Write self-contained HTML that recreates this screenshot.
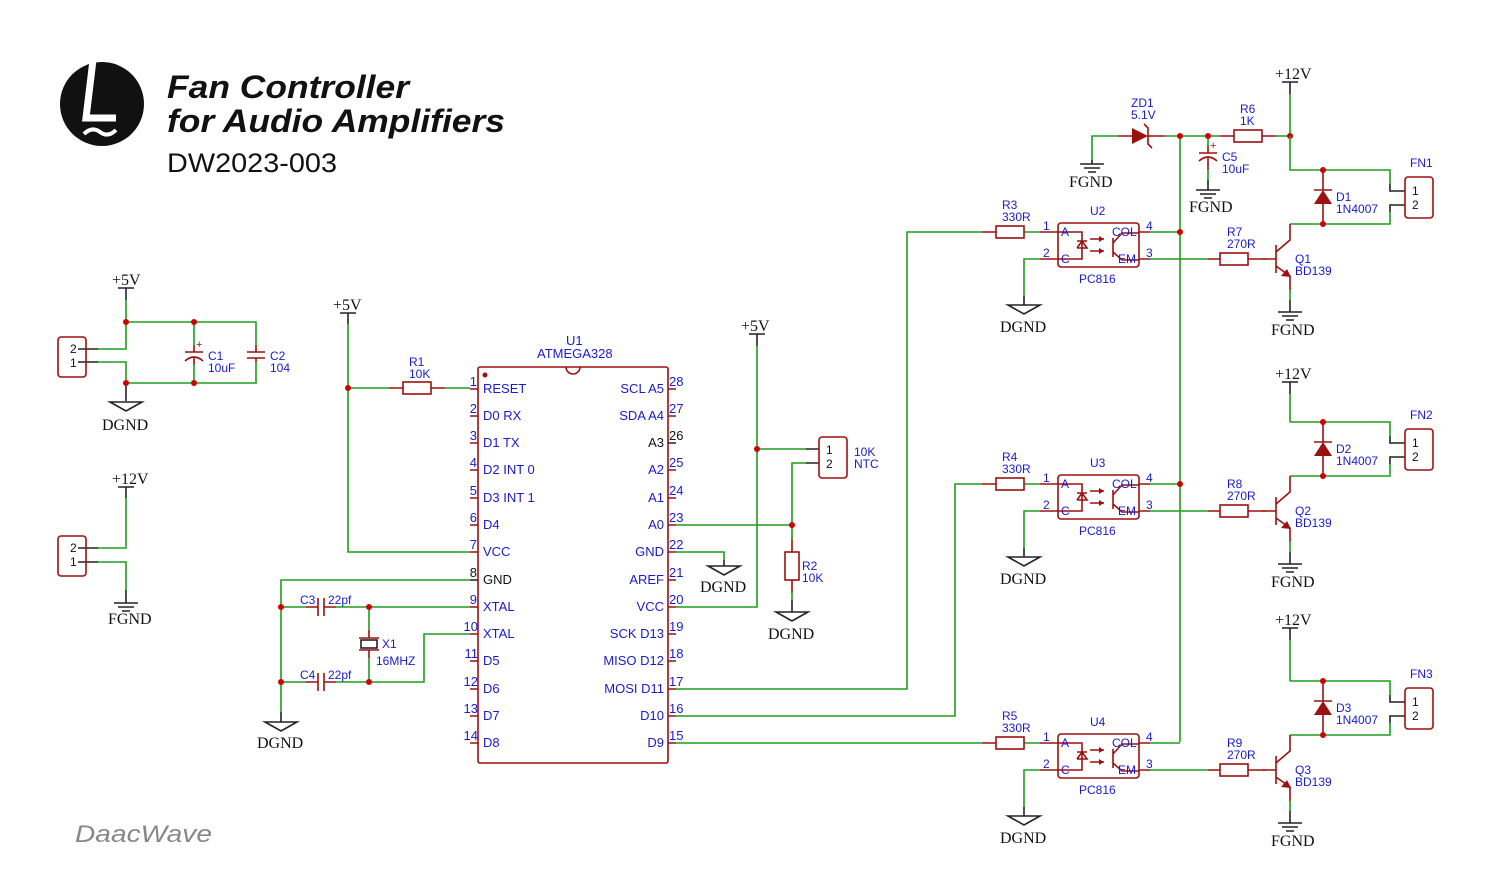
<!DOCTYPE html>
<html><head><meta charset="utf-8"><style>
html,body{margin:0;padding:0;background:#fff}
svg{display:block}
.w{stroke:#1e9e1e;stroke-width:1.6;fill:none}
.c{stroke:#9b1111;stroke-width:1.6;fill:none}
.k{stroke:#222;stroke-width:1.6;fill:none}
.d{fill:#d00000}
.t{font-family:"Liberation Sans",sans-serif;font-size:12px;fill:#1a1ad0}
.u text{font-size:13px}
.n{font-family:"Liberation Serif",serif;font-size:16px;fill:#111}
.p{font-family:"Liberation Sans",sans-serif;font-size:12px;fill:#111}
</style></head><body>
<svg width="1494" height="893" viewBox="0 0 1494 893" xmlns="http://www.w3.org/2000/svg">
<!-- logo -->
<circle cx="102" cy="104" r="42" fill="#111"/>
<path d="M93 60 L86 118 L116 118" stroke="#fff" stroke-width="7" fill="none"/>
<path d="M84 134 Q92 126 100 132 Q108 138 116 130" stroke="#fff" stroke-width="4" fill="none"/>
<text x="167" y="98" font-family="Liberation Sans,sans-serif" font-weight="bold" font-style="italic" font-size="32" fill="#111" textLength="242" lengthAdjust="spacingAndGlyphs">Fan Controller</text>
<text x="167" y="132" font-family="Liberation Sans,sans-serif" font-weight="bold" font-style="italic" font-size="32" fill="#111" textLength="338" lengthAdjust="spacingAndGlyphs">for Audio Amplifiers</text>
<text x="167" y="172" font-family="Liberation Sans,sans-serif" font-size="27" fill="#111" textLength="170" lengthAdjust="spacingAndGlyphs">DW2023-003</text>
<text x="75" y="842" font-family="Liberation Sans,sans-serif" font-style="italic" font-size="24" fill="#888" textLength="137" lengthAdjust="spacingAndGlyphs">DaacWave</text>

<!-- left power +5V -->
<text class="n" x="112" y="285">+5V</text>
<path class="k" d="M118 288 H134 M126 288 V300 M78 349 H98 M78 362 H98"/>
<path class="w" d="M126 300 V349 H98 M98 362 H126 V383 M126 322 H256 V345 M256 362 V383 H126 M194 322 V345 M194 365 V383"/>
<path class="k" d="M126 383 V401"/>
<path class="k" d="M110 402 H142 L126 411 Z"/>
<text class="n" x="102" y="430">DGND</text>
<rect class="c" x="58" y="337" width="28" height="40" rx="3"/>
<text class="p" x="70" y="353">2</text><text class="p" x="70" y="367">1</text>
<path class="c" d="M185 352 H203 M185 361 Q194 353 203 361 M194 345 V352 M194 358 V365 M247 352 H265 M247 358 H265 M256 345 V352 M256 358 V362"/>
<text x="196" y="348" font-size="11" fill="#9b1111" font-family="Liberation Sans">+</text>
<text class="t" x="208" y="360">C1</text><text class="t" x="208" y="372">10uF</text>
<text class="t" x="270" y="360">C2</text><text class="t" x="270" y="372">104</text>
<circle class="d" cx="126" cy="322" r="3"/><circle class="d" cx="194" cy="322" r="3"/>
<circle class="d" cx="126" cy="383" r="3"/><circle class="d" cx="194" cy="383" r="3"/>

<!-- left +12V -->
<text class="n" x="112" y="484">+12V</text>
<path class="k" d="M118 487 H134 M126 487 V498 M78 548 H98 M78 562 H98"/>
<path class="w" d="M126 498 V548 H98 M98 562 H126 V590"/>
<path class="k" d="M126 590 V603 M114 603 H138 M118 607 H134 M122 611 H130"/>
<text class="n" x="108" y="624">FGND</text>
<rect class="c" x="58" y="536" width="28" height="40" rx="3"/>
<text class="p" x="70" y="552">2</text><text class="p" x="70" y="566">1</text>

<!-- U1 -->
<g class="u">
<text class="t" x="566" y="345">U1</text><text class="t" x="537" y="358">ATMEGA328</text>
</g>
<rect class="c" x="478" y="367" width="190" height="396" rx="2"/>
<path class="c" d="M566 367 A7 7 0 0 0 580 367" />
<circle cx="485" cy="375" r="2.5" fill="#9b1111"/>
<g class="c">
<path d="M470 389H478M470 416H478M470 443H478M470 470H478M470 498H478M470 525H478M470 552H478M470 607H478M470 634H478M470 661H478M470 689H478M470 716H478M470 743H478"/>
<path d="M668 389H676M668 416H676M668 470H676M668 498H676M668 525H676M668 552H676M668 580H676M668 607H676M668 634H676M668 661H676M668 689H676M668 716H676M668 743H676"/>
</g>
<path class="k" d="M470 580H478M668 443H676"/>
<g class="t u" text-anchor="end">
<text x="477" y="386">1</text><text x="477" y="413">2</text><text x="477" y="440">3</text><text x="477" y="467">4</text><text x="477" y="495">5</text><text x="477" y="522">6</text><text x="477" y="549">7</text><text x="477" y="577" style="fill:#111">8</text><text x="477" y="604">9</text><text x="478" y="631">10</text><text x="478" y="658">11</text><text x="478" y="686">12</text><text x="478" y="713">13</text><text x="478" y="740">14</text>
</g>
<g class="t u">
<text x="669" y="386">28</text><text x="669" y="413">27</text><text x="669" y="440" style="fill:#111">26</text><text x="669" y="467">25</text><text x="669" y="495">24</text><text x="669" y="522">23</text><text x="669" y="549">22</text><text x="669" y="577">21</text><text x="669" y="604">20</text><text x="669" y="631">19</text><text x="669" y="658">18</text><text x="669" y="686">17</text><text x="669" y="713">16</text><text x="669" y="740">15</text>
<text x="483" y="393">RESET</text><text x="483" y="420">D0 RX</text><text x="483" y="447">D1 TX</text><text x="483" y="474">D2 INT 0</text><text x="483" y="502">D3 INT 1</text><text x="483" y="529">D4</text><text x="483" y="556">VCC</text><text x="483" y="584" style="fill:#111">GND</text><text x="483" y="611">XTAL</text><text x="483" y="638">XTAL</text><text x="483" y="665">D5</text><text x="483" y="693">D6</text><text x="483" y="720">D7</text><text x="483" y="747">D8</text>
</g>
<g class="t u" text-anchor="end">
<text x="664" y="393">SCL A5</text><text x="664" y="420">SDA A4</text><text x="664" y="447" style="fill:#111">A3</text><text x="664" y="474">A2</text><text x="664" y="502">A1</text><text x="664" y="529">A0</text><text x="664" y="556">GND</text><text x="664" y="584">AREF</text><text x="664" y="611">VCC</text><text x="664" y="638">SCK D13</text><text x="664" y="665">MISO D12</text><text x="664" y="693">MOSI D11</text><text x="664" y="720">D10</text><text x="664" y="747">D9</text>
</g>

<!-- +5V / R1 -->
<text class="n" x="333" y="310">+5V</text>
<path class="k" d="M340 313 H356 M348 313 V324"/>
<path class="w" d="M348 324 V552 H470 M348 388 H389 M445 388 H470"/>
<path class="c" d="M389 388 H403 M431 388 H445"/><rect class="c" x="403" y="382" width="28" height="12"/>
<text class="t" x="409" y="366">R1</text><text class="t" x="409" y="378">10K</text>
<circle class="d" cx="348" cy="388" r="3"/>

<!-- crystal area -->
<path class="w" d="M470 580 H281 V712 M281 607 H306 M336 607 H470 M281 682 H306 M336 682 H369 H424 V634 H470 M369 607 V630 M369 658 V682"/>
<path class="c" d="M306 607 H318 M324 607 H336 M318 598 V616 M324 598 V616 M306 682 H318 M324 682 H336 M318 673 V691 M324 673 V691 M369 630 V638 M369 650 V658 M359 638 H379 M359 650 H379"/>
<rect class="k" x="361" y="640" width="16" height="8"/>
<text class="t" x="300" y="604">C3</text><text class="t" x="328" y="604">22pf</text>
<text class="t" x="300" y="679">C4</text><text class="t" x="328" y="679">22pf</text>
<text class="t" x="382" y="648">X1</text><text class="t" x="376" y="665">16MHZ</text>
<path class="k" d="M281 712 V722 M265 722 H297 L281 731 Z"/>
<text class="n" x="257" y="748">DGND</text>
<circle class="d" cx="281" cy="607" r="3"/><circle class="d" cx="281" cy="682" r="3"/><circle class="d" cx="369" cy="607" r="3"/><circle class="d" cx="369" cy="682" r="3"/>

<!-- NTC area -->
<text class="n" x="741" y="331">+5V</text>
<path class="k" d="M749 334 H765 M757 334 V346"/>
<path class="w" d="M757 346 V607 H676 M757 449 H806 M806 463 H792 V539 M676 525 H792 M676 552 H724 V560 M792 593 V600"/>
<path class="k" d="M806 449 H819 M806 463 H819"/>
<rect class="c" x="819" y="437" width="28" height="41" rx="3"/>
<text class="p" x="826" y="454">1</text><text class="p" x="826" y="468">2</text>
<text class="t" x="854" y="456">10K</text><text class="t" x="854" y="468">NTC</text>
<path class="c" d="M792 539 V552 M792 580 V593"/><rect class="c" x="785" y="552" width="14" height="28"/>
<text class="t" x="802" y="570">R2</text><text class="t" x="802" y="582">10K</text>
<path class="k" d="M724 560 V566 M708 566 H740 L724 575 Z M792 600 V612 M776 612 H808 L792 621 Z"/>
<text class="n" x="700" y="592">DGND</text><text class="n" x="768" y="639">DGND</text>
<circle class="d" cx="757" cy="449" r="3"/><circle class="d" cx="792" cy="525" r="3"/>

<!-- MCU to optos -->
<path class="w" d="M676 689 H907 V232 H982 M676 716 H955 V484 H982 M676 743 H982"/>

<!-- top zener / R6 -->
<text class="n" x="1275" y="79">+12V</text>
<path class="k" d="M1282 82 H1298 M1290 82 V94"/>
<path class="w" d="M1290 94 V136 M1092 160 V136 H1118 M1165 136 H1220 M1276 136 H1290 M1208 136 V146 M1180 136 V742 M1208 170 V180"/>
<path class="c" d="M1118 136 H1132 M1148 136 H1165 M1220 136 H1234 M1262 136 H1276 M1199 153 H1217 M1199 161 Q1208 153 1217 161 M1208 146 V153 M1208 158 V170"/>
<path d="M1132 128 L1148 136 L1132 144 Z" fill="#9b1111"/>
<path class="c" d="M1144 124 L1148 128 V144 L1152 148"/>
<rect class="c" x="1234" y="130" width="28" height="12"/>
<text x="1210" y="149" font-size="11" fill="#9b1111" font-family="Liberation Sans">+</text>
<text class="t" x="1131" y="107">ZD1</text><text class="t" x="1131" y="119">5.1V</text>
<text class="t" x="1240" y="113">R6</text><text class="t" x="1240" y="125">1K</text>
<text class="t" x="1222" y="161">C5</text><text class="t" x="1222" y="173">10uF</text>
<path class="k" d="M1092 160 V164 M1080 164 H1104 M1084 168 H1100 M1088 172 H1096 M1208 180 V190 M1196 190 H1220 M1200 194 H1216 M1204 198 H1212"/>
<text class="n" x="1069" y="187">FGND</text><text class="n" x="1189" y="212">FGND</text>
<circle class="d" cx="1180" cy="136" r="3"/><circle class="d" cx="1208" cy="136" r="3"/><circle class="d" cx="1290" cy="136" r="3"/>

<!-- +12V for blocks 2,3 -->
<text class="n" x="1275" y="379">+12V</text>
<path class="k" d="M1282 382 H1298 M1290 382 V394"/>
<path class="w" d="M1290 394 V422"/>
<text class="n" x="1275" y="625">+12V</text>
<path class="k" d="M1282 628 H1298 M1290 628 V640"/>
<path class="w" d="M1290 640 V681"/>

<!-- block 1 -->
<g>
<path class="w" d="M1290 136 V170 H1390 V184 M1390 212 V224 H1290 M1024 232 H1040 M1040 259 H1024 V296 M1150 232 H1180 M1150 259 H1208 M1262 259 H1266 M1290 290 V300"/>
<path class="k" d="M1390 184 V191 H1405 M1390 212 V205 H1405 M1290 300 V312 M1278 312 H1302 M1282 316 H1298 M1286 320 H1294 M1024 296 V305 M1008 305 H1040 L1024 314 Z"/>
<path class="c" d="M982 232 H996 M1040 232 H1058 M1040 259 H1058 M1139 232 H1150 M1139 259 H1150 M1208 259 H1220 M1248 259 H1266 H1276 M1323 170 V190 M1323 204 V224 M1276 245 V273 M1276 252 L1290 240 V224 M1276 266 L1290 276 V290"/>
<rect class="c" x="996" y="226" width="28" height="12"/>
<rect class="c" x="1220" y="253" width="28" height="12"/>
<path d="M1314 204 L1332 204 L1323 190 Z" fill="#9b1111"/><path class="c" d="M1314 190 H1332"/>
<path d="M1291 277 L1281 276 L1287 269 Z" fill="#9b1111"/>
<rect class="c" x="1058" y="223" width="81" height="44" rx="3"/>
<path class="c" d="M1058 232 H1082 V259 H1058 M1077 241 H1087 M1077 248 H1087 L1082 241 L1077 248 M1090 239 H1104 M1090 251 H1104 M1113 238 V257 M1113 243 L1122 233 H1139 M1113 252 L1122 260 H1139"/>
<path d="M1104 239 L1099 236 V242 Z M1104 251 L1099 248 V254 Z" fill="#9b1111"/>
<rect class="c" x="1405" y="177" width="28" height="41" rx="3"/>
<text class="p" x="1412" y="195">1</text><text class="p" x="1412" y="209">2</text>
<text class="t" x="1410" y="167">FN1</text>
<text class="t" x="1336" y="201">D1</text><text class="t" x="1336" y="213">1N4007</text>
<text class="t" x="1295" y="263">Q1</text><text class="t" x="1295" y="275">BD139</text>
<text class="t" x="1227" y="236">R7</text><text class="t" x="1227" y="248">270R</text>
<text class="t" x="1002" y="209">R3</text><text class="t" x="1002" y="221">330R</text>
<text class="t" x="1090" y="215">U2</text><text class="t" x="1079" y="283">PC816</text>
<text class="t" x="1043" y="230">1</text><text class="t" x="1043" y="257">2</text><text class="t" x="1146" y="230">4</text><text class="t" x="1146" y="257">3</text>
<text class="t" x="1061" y="236">A</text><text class="t" x="1061" y="263">C</text><text class="t" x="1112" y="236">COL</text><text class="t" x="1118" y="263">EM</text>
<text class="n" x="1271" y="335">FGND</text><text class="n" x="1000" y="332">DGND</text>
<circle class="d" cx="1323" cy="170" r="3"/><circle class="d" cx="1323" cy="224" r="3"/><circle class="d" cx="1180" cy="232" r="3"/>
</g>

<!-- block 2 -->
<g transform="translate(0,252)">
<path class="w" d="M1290 170 H1390 V184 M1390 212 V224 H1290 M1024 232 H1040 M1040 259 H1024 V296 M1150 232 H1180 M1150 259 H1208 M1262 259 H1266 M1290 290 V300"/>
<path class="k" d="M1390 184 V191 H1405 M1390 212 V205 H1405 M1290 300 V312 M1278 312 H1302 M1282 316 H1298 M1286 320 H1294 M1024 296 V305 M1008 305 H1040 L1024 314 Z"/>
<path class="c" d="M982 232 H996 M1040 232 H1058 M1040 259 H1058 M1139 232 H1150 M1139 259 H1150 M1208 259 H1220 M1248 259 H1266 H1276 M1323 170 V190 M1323 204 V224 M1276 245 V273 M1276 252 L1290 240 V224 M1276 266 L1290 276 V290"/>
<rect class="c" x="996" y="226" width="28" height="12"/>
<rect class="c" x="1220" y="253" width="28" height="12"/>
<path d="M1314 204 L1332 204 L1323 190 Z" fill="#9b1111"/><path class="c" d="M1314 190 H1332"/>
<path d="M1291 277 L1281 276 L1287 269 Z" fill="#9b1111"/>
<rect class="c" x="1058" y="223" width="81" height="44" rx="3"/>
<path class="c" d="M1058 232 H1082 V259 H1058 M1077 241 H1087 M1077 248 H1087 L1082 241 L1077 248 M1090 239 H1104 M1090 251 H1104 M1113 238 V257 M1113 243 L1122 233 H1139 M1113 252 L1122 260 H1139"/>
<path d="M1104 239 L1099 236 V242 Z M1104 251 L1099 248 V254 Z" fill="#9b1111"/>
<rect class="c" x="1405" y="177" width="28" height="41" rx="3"/>
<text class="p" x="1412" y="195">1</text><text class="p" x="1412" y="209">2</text>
<text class="t" x="1410" y="167">FN2</text>
<text class="t" x="1336" y="201">D2</text><text class="t" x="1336" y="213">1N4007</text>
<text class="t" x="1295" y="263">Q2</text><text class="t" x="1295" y="275">BD139</text>
<text class="t" x="1227" y="236">R8</text><text class="t" x="1227" y="248">270R</text>
<text class="t" x="1002" y="209">R4</text><text class="t" x="1002" y="221">330R</text>
<text class="t" x="1090" y="215">U3</text><text class="t" x="1079" y="283">PC816</text>
<text class="t" x="1043" y="230">1</text><text class="t" x="1043" y="257">2</text><text class="t" x="1146" y="230">4</text><text class="t" x="1146" y="257">3</text>
<text class="t" x="1061" y="236">A</text><text class="t" x="1061" y="263">C</text><text class="t" x="1112" y="236">COL</text><text class="t" x="1118" y="263">EM</text>
<text class="n" x="1271" y="335">FGND</text><text class="n" x="1000" y="332">DGND</text>
<circle class="d" cx="1323" cy="170" r="3"/><circle class="d" cx="1323" cy="224" r="3"/><circle class="d" cx="1180" cy="232" r="3"/>
</g>

<!-- block 3 -->
<g transform="translate(0,511)">
<path class="w" d="M1290 170 H1390 V184 M1390 212 V224 H1290 M1024 232 H1040 M1040 259 H1024 V296 M1150 232 H1180 M1150 259 H1208 M1262 259 H1266 M1290 290 V300"/>
<path class="k" d="M1390 184 V191 H1405 M1390 212 V205 H1405 M1290 300 V312 M1278 312 H1302 M1282 316 H1298 M1286 320 H1294 M1024 296 V305 M1008 305 H1040 L1024 314 Z"/>
<path class="c" d="M982 232 H996 M1040 232 H1058 M1040 259 H1058 M1139 232 H1150 M1139 259 H1150 M1208 259 H1220 M1248 259 H1266 H1276 M1323 170 V190 M1323 204 V224 M1276 245 V273 M1276 252 L1290 240 V224 M1276 266 L1290 276 V290"/>
<rect class="c" x="996" y="226" width="28" height="12"/>
<rect class="c" x="1220" y="253" width="28" height="12"/>
<path d="M1314 204 L1332 204 L1323 190 Z" fill="#9b1111"/><path class="c" d="M1314 190 H1332"/>
<path d="M1291 277 L1281 276 L1287 269 Z" fill="#9b1111"/>
<rect class="c" x="1058" y="223" width="81" height="44" rx="3"/>
<path class="c" d="M1058 232 H1082 V259 H1058 M1077 241 H1087 M1077 248 H1087 L1082 241 L1077 248 M1090 239 H1104 M1090 251 H1104 M1113 238 V257 M1113 243 L1122 233 H1139 M1113 252 L1122 260 H1139"/>
<path d="M1104 239 L1099 236 V242 Z M1104 251 L1099 248 V254 Z" fill="#9b1111"/>
<rect class="c" x="1405" y="177" width="28" height="41" rx="3"/>
<text class="p" x="1412" y="195">1</text><text class="p" x="1412" y="209">2</text>
<text class="t" x="1410" y="167">FN3</text>
<text class="t" x="1336" y="201">D3</text><text class="t" x="1336" y="213">1N4007</text>
<text class="t" x="1295" y="263">Q3</text><text class="t" x="1295" y="275">BD139</text>
<text class="t" x="1227" y="236">R9</text><text class="t" x="1227" y="248">270R</text>
<text class="t" x="1002" y="209">R5</text><text class="t" x="1002" y="221">330R</text>
<text class="t" x="1090" y="215">U4</text><text class="t" x="1079" y="283">PC816</text>
<text class="t" x="1043" y="230">1</text><text class="t" x="1043" y="257">2</text><text class="t" x="1146" y="230">4</text><text class="t" x="1146" y="257">3</text>
<text class="t" x="1061" y="236">A</text><text class="t" x="1061" y="263">C</text><text class="t" x="1112" y="236">COL</text><text class="t" x="1118" y="263">EM</text>
<text class="n" x="1271" y="335">FGND</text><text class="n" x="1000" y="332">DGND</text>
<circle class="d" cx="1323" cy="170" r="3"/><circle class="d" cx="1323" cy="224" r="3"/>
</g>
</svg>
</body></html>
